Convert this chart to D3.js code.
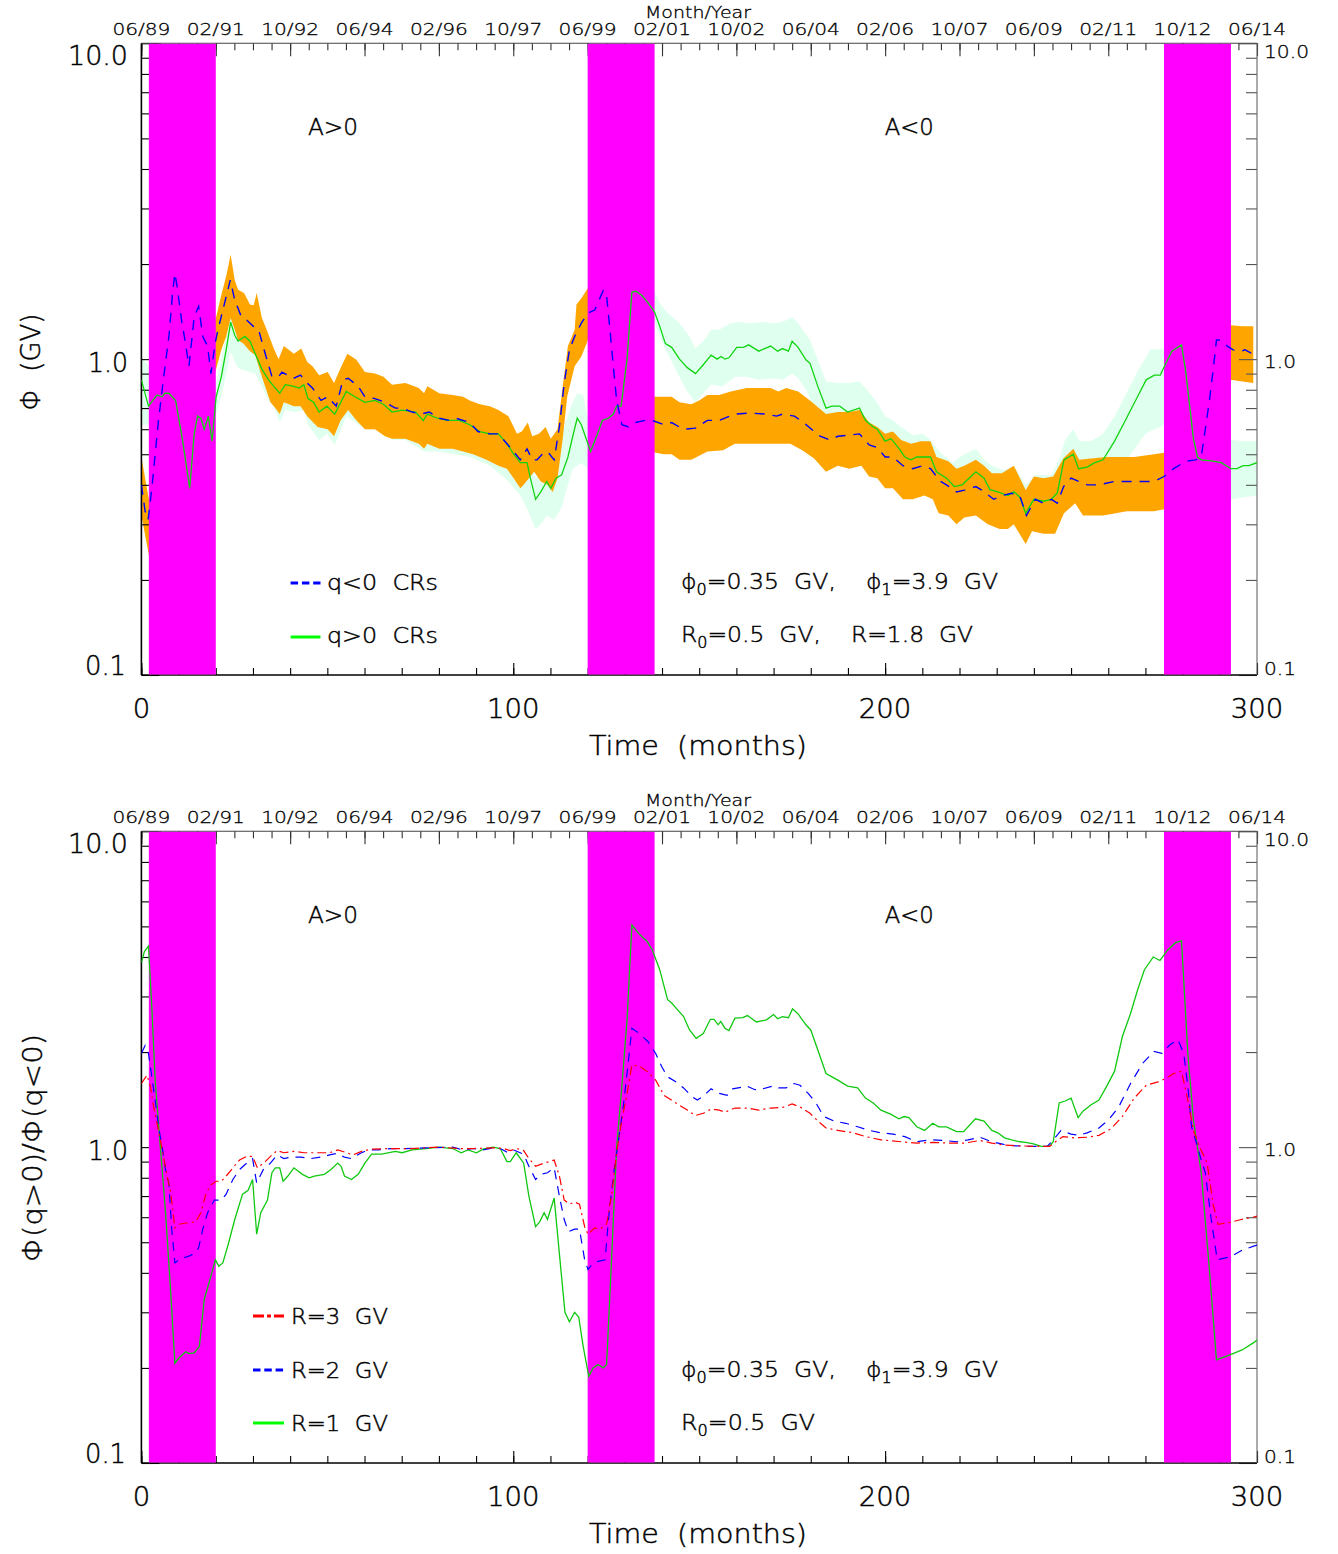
<!DOCTYPE html>
<html><head><meta charset="utf-8">
<script src="https://cdn.jsdelivr.net/npm/d3@7"></script>
<style>
body{margin:0;background:#fff}
svg{display:block}
text{font-family:"DejaVu Sans",sans-serif;font-weight:200;fill:#000;stroke:#000;stroke-width:0.45px;white-space:pre}
</style>
</head><body>
<svg id="c" width="1338" height="1554"></svg>
<script>
// ---------------- DATA ----------------
const reversalPeriods = [[2,20],[120,138],[275,293]];
const yearTickMonths = [0,20,40,60,80,100,120,140,160,180,200,220,240,260,280,300];
const yearTickLabels = ["06/89","02/91","10/92","06/94","02/96","10/97","06/99","02/01","10/02","06/04","02/06","10/07","06/09","02/11","10/12","06/14"];
const timeTickLabels = [0,100,200,300];
const yTickLabels = ["0.1","1.0","10.0"];

// Top panel: Phi for q<0 (blue dashed) and q>0 (green), [month, GV]
const phiQNeg = [[0,0.40],[1,0.33],[1.8,0.31],[2.8,0.39],[4.6,0.64],[6,0.88],[7.4,1.18],[8.3,1.58],[9,1.87],[9.6,1.7],[10.8,1.33],[11.7,1.15],[12.8,0.95],[14.2,1.36],[15.4,1.47],[16.5,1.18],[17.8,1.10],[18.7,0.90],[19.8,1.12],[20.6,1.24],[21.9,1.43],[23.9,1.78],[25.1,1.54],[26.9,1.36],[28.3,1.33],[30.1,1.27],[31.5,1.24],[33.3,1.04],[35.1,0.88],[36.9,0.88],[37.8,0.91],[41,0.87],[42.8,0.89],[44.6,0.84],[46,0.81],[48.3,0.74],[50.1,0.76],[52.4,0.71],[54.2,0.86],[55.6,0.87],[58.3,0.82],[60.1,0.76],[62.8,0.75],[65.5,0.73],[68.3,0.70],[70.1,0.70],[72.8,0.68],[75.1,0.67],[77.4,0.68],[80.1,0.65],[82.8,0.64],[84.6,0.65],[88.3,0.63],[90.5,0.59],[93.7,0.58],[96,0.58],[98.3,0.54],[100.1,0.51],[101.9,0.48],[102.8,0.50],[103.7,0.52],[105.1,0.48],[106.4,0.48],[107.8,0.50],[109.2,0.51],[111,0.48],[112.4,0.61],[113.7,0.84],[115.1,1.07],[116.5,1.18],[118.3,1.30],[120.1,1.40],[121.9,1.43],[124.2,1.65],[125,1.63],[126,1.24],[126.9,0.95],[127.8,0.74],[129.2,0.62],[131,0.61],[132.8,0.63],[135.5,0.64],[137.3,0.64],[140.5,0.62],[142.6,0.63],[145.7,0.60],[149,0.605],[152.2,0.64],[155.4,0.64],[159.6,0.67],[163.8,0.675],[168.1,0.67],[170.8,0.66],[172.4,0.67],[175.6,0.66],[177.7,0.635],[179.8,0.605],[182.5,0.57],[185.1,0.555],[187.3,0.57],[190.4,0.575],[193.1,0.58],[195.7,0.535],[197.9,0.525],[200,0.49],[202.1,0.49],[204.8,0.46],[207.4,0.45],[210.1,0.46],[212.2,0.45],[214.9,0.41],[216.5,0.40],[219.2,0.38],[221.3,0.385],[224.4,0.395],[226,0.385],[229.2,0.36],[231.4,0.37],[234,0.376],[236.2,0.37],[238,0.32],[240.4,0.36],[242.5,0.35],[244.7,0.36],[246.3,0.35],[248,0.395],[250,0.42],[252.1,0.41],[254.3,0.40],[257.4,0.40],[261.7,0.41],[267,0.41],[272.3,0.41],[275,0.425],[277.6,0.45],[280.8,0.475],[283.5,0.48],[285,0.49],[286.1,0.60],[287.2,0.74],[288.2,0.92],[289.1,1.15],[290.2,1.15],[292,1.10],[293.6,1.07],[295.7,1.06],[296.8,1.07],[298.4,1.045],[300,1.05]];
const phiQPos = [[0,0.86],[1.9,0.71],[4.2,0.77],[5.6,0.76],[6.3,0.78],[7.4,0.78],[9.2,0.74],[11,0.56],[13,0.39],[14.2,0.58],[15.1,0.66],[16,0.65],[16.9,0.60],[18,0.66],[19,0.55],[20.1,0.76],[21.5,0.88],[22.8,1.07],[24,1.31],[25.1,1.19],[26,1.14],[27.8,1.18],[29.2,1.14],[30.6,1.04],[32.4,0.93],[34.2,0.86],[35.6,0.82],[37.2,0.78],[38.7,0.83],[41,0.82],[42.4,0.81],[43.7,0.83],[44.8,0.75],[46.3,0.73],[47.8,0.68],[49.9,0.71],[52,0.67],[55.1,0.79],[57.4,0.76],[60.1,0.73],[62.8,0.74],[65.1,0.72],[67.4,0.68],[70.1,0.69],[73.7,0.68],[75.8,0.64],[76.9,0.67],[79.6,0.65],[82.3,0.64],[85.5,0.64],[88.3,0.62],[91,0.59],[93.7,0.58],[96,0.58],[98.3,0.54],[100.1,0.50],[101.9,0.47],[103.7,0.47],[104.6,0.42],[106,0.36],[107.4,0.38],[109,0.41],[110.1,0.39],[111.5,0.42],[113,0.43],[114.7,0.49],[116,0.57],[117.2,0.65],[118.3,0.62],[120.8,0.51],[122.4,0.57],[124,0.64],[125.6,0.65],[126.9,0.67],[127.8,0.71],[129,0.71],[130.6,1.0],[131.9,1.63],[133,1.64],[134.6,1.59],[136.4,1.50],[138,1.41],[139.4,1.27],[140.9,1.12],[142.6,1.09],[144.7,1.0],[146.8,0.94],[149,0.90],[151.1,0.96],[153.2,1.03],[154.8,1.0],[155.9,1.02],[156.9,1.0],[158,1.01],[160.1,1.09],[161.9,1.09],[163.3,1.11],[166,1.06],[169.2,1.10],[171.1,1.06],[172.4,1.08],[174,1.06],[175,1.14],[176.6,1.09],[178.7,0.995],[179.8,0.97],[181.9,0.82],[184.1,0.70],[185.7,0.71],[187.8,0.71],[189.9,0.68],[193.1,0.70],[194.7,0.64],[196.8,0.61],[197.9,0.60],[200,0.55],[201.6,0.56],[203.8,0.52],[205.3,0.49],[206.9,0.48],[208.5,0.49],[210.1,0.49],[212.2,0.49],[213.8,0.44],[216.5,0.42],[218.6,0.395],[220.7,0.40],[224.4,0.44],[226.6,0.42],[228.2,0.386],[230.3,0.38],[233,0.37],[234.6,0.38],[236.2,0.366],[237.8,0.325],[240,0.36],[242.6,0.355],[244.7,0.36],[246.3,0.377],[248.1,0.48],[250.6,0.50],[252,0.45],[254.3,0.455],[256.4,0.47],[258.6,0.48],[261.7,0.55],[264.9,0.65],[268.1,0.77],[270.2,0.86],[272.4,0.89],[274,0.89],[275.5,0.97],[277.1,1.06],[279.7,1.11],[280.8,0.92],[281.9,0.71],[282.9,0.56],[284,0.49],[285,0.48],[287.7,0.476],[290.4,0.47],[293,0.45],[294.6,0.45],[296.3,0.46],[297.8,0.46],[300,0.47]];

// Uncertainty bands (upper / lower edges)
const phiQNegHi = [[0,0.49],[2,0.36],[20.1,1.36],[21.5,1.6],[22.8,1.83],[24,2.14],[25.1,1.78],[26,1.66],[27.6,1.62],[29.2,1.49],[30.2,1.48],[31,1.62],[32.4,1.35],[33.7,1.24],[35.6,1.08],[36.9,1.0],[38.3,1.10],[39.6,1.07],[41,1.04],[43,1.08],[44.6,0.98],[46,0.95],[47.8,0.89],[50.1,0.91],[51.8,0.84],[53.6,0.94],[55.4,1.04],[57.8,0.995],[60.1,0.91],[62.8,0.90],[65.1,0.88],[67.4,0.83],[71,0.84],[74.6,0.81],[76,0.78],[76.9,0.82],[80.1,0.78],[83.7,0.77],[86.5,0.76],[88.3,0.74],[91,0.72],[93.7,0.71],[96,0.69],[98.7,0.66],[101,0.58],[102.3,0.59],[103.9,0.63],[105.1,0.57],[106.9,0.58],[108.7,0.61],[110.1,0.56],[111.9,0.60],[113.3,0.82],[114.7,1.10],[116.5,1.24],[117,1.49],[118.3,1.56],[120.1,1.68],[138,0.76],[140.5,0.76],[142.6,0.76],[144.7,0.73],[147.9,0.72],[150,0.74],[152.2,0.77],[155.4,0.77],[158.5,0.79],[162.8,0.81],[166,0.81],[169.2,0.81],[171.3,0.79],[173.4,0.81],[176.6,0.79],[179.8,0.74],[184.1,0.67],[187.3,0.68],[190.4,0.68],[193.1,0.69],[195.7,0.63],[197.9,0.61],[200,0.58],[202.1,0.59],[204.3,0.555],[207,0.54],[209.6,0.55],[212.2,0.55],[213.8,0.49],[217,0.475],[219.2,0.45],[221.3,0.46],[224.4,0.48],[226.6,0.46],[228.7,0.435],[231.4,0.435],[234.6,0.46],[237.8,0.385],[240,0.425],[242.6,0.42],[245.2,0.425],[247.9,0.485],[250.6,0.52],[252.2,0.48],[255.3,0.485],[259.6,0.49],[267,0.49],[272.3,0.50],[275,0.505],[293,1.28],[296,1.27],[299,1.27]];
const phiQNegLo = [[0,0.32],[2,0.24],[20.1,0.93],[21.5,1.07],[22.8,1.18],[24,1.35],[25.1,1.24],[26,1.15],[27.4,1.12],[29.2,1.06],[30.6,1.03],[32.4,0.88],[34.7,0.73],[36,0.70],[37.2,0.67],[38.3,0.73],[41,0.71],[42.8,0.71],[44.6,0.66],[47.4,0.61],[50.1,0.60],[51.8,0.57],[53.6,0.64],[55.6,0.69],[57.8,0.64],[60.1,0.60],[62.8,0.60],[65.5,0.57],[67.4,0.56],[71,0.56],[74.6,0.54],[76,0.52],[76.9,0.54],[80.1,0.52],[83.7,0.52],[86.5,0.51],[89.2,0.50],[92.8,0.48],[96,0.46],[98.3,0.45],[100.1,0.42],[101.9,0.39],[102.8,0.40],[104.2,0.42],[105.6,0.44],[107.4,0.41],[109.2,0.40],[110.6,0.38],[111.9,0.42],[113.3,0.56],[114.5,0.76],[116.5,0.95],[118.3,1.02],[120.1,1.15],[138,0.506],[140.5,0.50],[142.6,0.50],[144.7,0.48],[147.9,0.48],[152.2,0.51],[156.4,0.515],[159.6,0.54],[164.9,0.54],[169.2,0.54],[174.5,0.54],[177.7,0.515],[180.9,0.485],[184.1,0.44],[187.3,0.46],[190.4,0.45],[193.6,0.46],[195.7,0.425],[197.9,0.42],[200,0.39],[202.1,0.39],[204.8,0.36],[207.4,0.36],[210.6,0.37],[212.8,0.36],[214.4,0.325],[217,0.32],[219.2,0.30],[221.3,0.315],[224.4,0.32],[227.6,0.30],[230.8,0.29],[233,0.29],[234.6,0.30],[237.8,0.26],[239.5,0.285],[242.6,0.28],[245.7,0.28],[248.1,0.325],[251.1,0.35],[253.2,0.32],[258.6,0.32],[265,0.33],[272.3,0.33],[275,0.335],[293,0.86],[296,0.85],[299,0.84]];
const phiQPosHi = [[0,1.02],[2,0.95],[20.1,0.85],[21.5,1.0],[22.8,1.2],[24,1.45],[25.1,1.33],[26,1.28],[27.8,1.32],[29.2,1.28],[30.6,1.17],[32.4,1.04],[34.2,0.97],[35.6,0.92],[37.2,0.88],[38.7,0.93],[41,0.92],[43.7,0.93],[44.8,0.84],[46.3,0.82],[47.8,0.77],[49.9,0.80],[52,0.76],[55.1,0.89],[57.4,0.86],[60.1,0.82],[62.8,0.83],[65.1,0.81],[67.4,0.77],[70.1,0.78],[73.7,0.77],[75.8,0.72],[76.9,0.75],[79.6,0.73],[82.3,0.72],[85.5,0.72],[88.3,0.70],[91,0.66],[93.7,0.65],[96,0.65],[98.3,0.61],[100.1,0.57],[101.9,0.53],[103.7,0.53],[104.6,0.48],[106,0.42],[107.4,0.43],[109,0.46],[110.1,0.45],[111.5,0.48],[112,0.50],[113.7,0.61],[115.5,0.71],[117.2,0.78],[118.8,0.77],[120.1,0.64],[138,1.64],[139.4,1.5],[141.5,1.4],[144.7,1.3],[147.4,1.18],[149,1.08],[151.1,1.14],[153.2,1.24],[155.4,1.24],[158.5,1.30],[160.6,1.31],[163.8,1.30],[167,1.31],[170.3,1.30],[172.4,1.31],[175,1.36],[176.6,1.30],[179.8,1.15],[181.9,0.995],[184.1,0.85],[187.3,0.84],[190.4,0.84],[193.1,0.85],[195.2,0.80],[197.9,0.725],[200,0.66],[202.1,0.64],[204.3,0.61],[207.4,0.575],[210.1,0.58],[212.2,0.555],[214.9,0.505],[218.1,0.47],[221.3,0.50],[224.4,0.52],[226.6,0.48],[228.7,0.46],[231.9,0.445],[234.6,0.46],[237.8,0.40],[240.4,0.43],[244.7,0.43],[246.8,0.48],[248.4,0.555],[250.6,0.60],[252.2,0.55],[255.3,0.55],[258.6,0.58],[261.7,0.66],[264.9,0.78],[268.1,0.925],[271.3,1.07],[275,1.08],[293,0.555],[296,0.55],[300,0.55]];
const phiQPosLo = [[0,0.62],[2,0.62],[20.1,0.67],[21.5,0.76],[22.8,0.90],[24,1.06],[25.1,0.98],[26,0.94],[27.8,0.92],[29.2,0.91],[30.6,0.90],[32.4,0.82],[34.2,0.74],[35.6,0.71],[37.2,0.63],[38.7,0.69],[41,0.68],[43.7,0.69],[44.8,0.62],[47.8,0.555],[49.9,0.58],[52,0.535],[55.1,0.66],[60.1,0.60],[64,0.60],[67.4,0.555],[71,0.555],[76,0.51],[80.1,0.51],[88.3,0.49],[93.7,0.46],[98.3,0.415],[101.9,0.37],[104,0.33],[106,0.29],[107.4,0.30],[109,0.32],[111,0.31],[113,0.34],[114.7,0.40],[116,0.45],[118.3,0.47],[120.1,0.45],[138,1.30],[140.5,1.10],[143.7,0.925],[146.8,0.79],[149,0.73],[151.1,0.78],[153.2,0.83],[156.4,0.82],[159.6,0.88],[162.8,0.88],[166,0.86],[170.3,0.87],[172.4,0.86],[175,0.90],[176.6,0.87],[178.7,0.80],[181.9,0.66],[184.1,0.58],[190,0.57],[195,0.52],[200,0.45],[205,0.41],[210,0.40],[214,0.36],[218.6,0.33],[224,0.36],[228,0.32],[233,0.31],[237.8,0.27],[240,0.30],[245,0.30],[248,0.40],[251,0.42],[255,0.39],[260,0.42],[265,0.48],[270,0.58],[275,0.62],[293,0.36],[296,0.365],[300,0.37]];

// Bottom panel: ratio Phi(q>0)/Phi(q<0) for R = 3, 2, 1 GV
const ratioR3 = [[0,1.59],[1.5,1.69],[2.4,1.56],[3.3,1.34],[4.2,1.19],[5.6,0.98],[6.9,0.81],[7.8,0.73],[9,0.555],[10.1,0.57],[12.8,0.577],[14.6,0.58],[16,0.62],[17.4,0.715],[18.7,0.76],[20.1,0.78],[21.5,0.78],[22.8,0.81],[24.6,0.86],[26.4,0.91],[28.3,0.935],[29.9,0.935],[31.2,0.86],[33.3,0.90],[35.1,0.945],[36.5,0.975],[38.3,0.96],[41,0.97],[43.7,0.96],[47.4,0.96],[50.6,0.96],[52.8,0.98],[54.6,0.965],[56.9,0.945],[59.2,0.97],[61.9,0.985],[67.4,0.99],[72.8,0.99],[80.1,1.0],[85.5,0.99],[89.2,0.99],[94.6,0.995],[97.4,0.99],[99.2,0.975],[101,0.99],[102.8,0.975],[104.2,0.92],[106,0.87],[108.3,0.89],[111,0.91],[112.4,0.81],[113.7,0.68],[115.1,0.66],[116.5,0.67],[117.8,0.66],[119.2,0.56],[120.1,0.53],[121.9,0.555],[123.3,0.55],[125.1,0.57],[126.5,0.715],[127.8,0.96],[129.2,1.22],[130.6,1.48],[131.9,1.82],[134.1,1.80],[136.2,1.73],[138.3,1.63],[140.5,1.46],[143.7,1.38],[146.8,1.31],[149,1.26],[151.1,1.28],[153.2,1.32],[155.4,1.31],[156.9,1.29],[159.6,1.33],[162.8,1.33],[166,1.31],[169.2,1.33],[172.4,1.335],[175,1.37],[177.1,1.34],[179.8,1.28],[181.9,1.21],[184.1,1.15],[187.3,1.13],[191.5,1.11],[194.7,1.08],[198.9,1.055],[204.3,1.04],[208.5,1.03],[212.8,1.035],[217,1.03],[221.3,1.03],[225.5,1.05],[228.7,1.03],[231.9,1.015],[236.2,1.01],[240.4,1.005],[244.2,1.005],[245.8,1.04],[247.8,1.08],[251,1.07],[254.3,1.075],[257.5,1.09],[260.6,1.14],[263.8,1.25],[267,1.43],[270.2,1.57],[273.4,1.61],[275.5,1.65],[277.6,1.71],[279.7,1.74],[281.4,1.41],[282.9,1.13],[284.5,1.005],[286.6,0.89],[288.2,0.66],[289.5,0.57],[292.5,0.577],[295.7,0.59],[298.9,0.60],[300,0.605]];
const ratioR2 = [[0,1.98],[1,2.1],[1.9,1.98],[2.8,1.67],[3.7,1.41],[4.6,1.16],[5.6,1.0],[6.6,0.83],[7.4,0.77],[8.1,0.56],[9,0.43],[10.6,0.445],[12.4,0.45],[14.2,0.46],[15.4,0.48],[16.5,0.55],[17.8,0.62],[19.6,0.68],[21.5,0.68],[22.8,0.71],[24.6,0.79],[26.4,0.85],[28.3,0.89],[29.9,0.92],[31,0.77],[32.8,0.85],[34.7,0.89],[36.5,0.945],[38.3,0.92],[40.1,0.93],[42.8,0.93],[45.6,0.92],[48.3,0.93],[50.6,0.945],[52.4,0.955],[54.6,0.93],[56.5,0.92],[58.8,0.955],[61,0.98],[63.7,0.98],[67.4,0.99],[71,0.99],[76.5,0.995],[83.7,1.0],[86.5,0.98],[89.2,0.99],[91.9,0.98],[94.6,0.995],[96.5,0.99],[98.3,0.965],[100.1,0.98],[102.8,0.95],[104.2,0.87],[106,0.79],[107.4,0.82],[109.2,0.83],[111,0.86],[112.6,0.68],[113.7,0.59],[114.8,0.54],[116.5,0.55],[117.8,0.55],[119.2,0.44],[120.1,0.41],[121.5,0.43],[122.8,0.435],[124.7,0.44],[125.6,0.59],[126.9,0.81],[128.3,1.05],[129.6,1.35],[130.8,1.8],[131.9,2.38],[133.7,2.3],[136.2,2.16],[138.3,1.98],[139.9,1.80],[141.5,1.67],[143.7,1.61],[145.8,1.54],[147.9,1.45],[149.5,1.41],[151.1,1.45],[153.2,1.53],[155.4,1.48],[157.5,1.46],[159,1.53],[162.9,1.56],[165,1.52],[167.1,1.53],[169.7,1.56],[171.3,1.54],[173.4,1.54],[175.5,1.59],[177.1,1.57],[179.3,1.48],[181.4,1.38],[183.5,1.25],[186.2,1.21],[189.4,1.19],[192.6,1.16],[195.7,1.13],[198.9,1.11],[202.1,1.10],[205.3,1.08],[208.5,1.04],[212.2,1.055],[215.9,1.05],[219.2,1.04],[222.3,1.055],[225.5,1.075],[228.7,1.04],[231.9,1.02],[235.1,1.01],[239.3,1.005],[243.6,1.005],[245.2,1.055],[247.3,1.13],[250,1.10],[252.1,1.09],[254.3,1.11],[257.5,1.15],[260.1,1.22],[262.8,1.34],[266,1.59],[269.2,1.84],[272.3,2.01],[274.4,1.98],[276.6,2.11],[278.7,2.19],[280.3,1.98],[281.4,1.56],[282.4,1.16],[284,1.005],[285,0.91],[286.1,0.83],[287.7,0.59],[289.3,0.44],[293,0.45],[295.7,0.47],[298.9,0.485],[300,0.49]];
const ratioR1 = [[0,3.84],[0.8,4.16],[1.9,4.33],[2.8,2.78],[3.7,1.63],[5.1,1.0],[6.5,0.62],[7.8,0.36],[9,0.207],[10.1,0.215],[11.9,0.225],[12.8,0.222],[14.2,0.223],[15.6,0.234],[16.9,0.33],[18.3,0.376],[19.9,0.44],[20.8,0.42],[21.9,0.43],[23.3,0.49],[25.1,0.59],[27.2,0.71],[28.7,0.73],[29.9,0.79],[31,0.53],[32.1,0.62],[33.9,0.68],[35.1,0.83],[36,0.86],[37.2,0.86],[38.1,0.78],[39.4,0.81],[41,0.86],[43.3,0.82],[45.1,0.80],[46.5,0.81],[49.2,0.82],[51,0.85],[52.8,0.89],[53.7,0.87],[54.6,0.81],[56.5,0.79],[58.3,0.82],[60.1,0.89],[61.9,0.95],[64.6,0.95],[68.3,0.97],[70.1,0.96],[72.8,0.98],[76.5,0.99],[80.1,1.0],[83.7,0.99],[86,0.96],[87.8,0.98],[90.1,0.96],[91.9,0.985],[94.6,1.0],[96.5,0.99],[98.3,0.90],[99.2,0.90],[100.8,0.96],[102.8,0.89],[104.2,0.70],[106,0.56],[107.1,0.58],[108.3,0.62],[109.2,0.59],[111,0.69],[112.4,0.46],[113.9,0.30],[115.1,0.28],[116.5,0.30],[117.6,0.29],[118.8,0.234],[120.3,0.188],[121.5,0.20],[122.8,0.205],[124.2,0.20],[125.1,0.205],[126.5,0.46],[127.8,1.0],[129.2,1.56],[130.6,2.53],[131.9,5.05],[133.7,4.75],[136,4.48],[137.4,4.21],[139.4,3.64],[141.5,2.93],[142.6,2.86],[144.2,2.72],[145.8,2.59],[147.4,2.35],[149.2,2.21],[151.1,2.29],[153,2.54],[154,2.54],[155.1,2.44],[155.8,2.5],[156.9,2.38],[158,2.34],[159.6,2.56],[161.7,2.57],[163,2.61],[165.4,2.49],[168.1,2.53],[170,2.63],[171.1,2.55],[172.4,2.59],[174,2.57],[175.1,2.74],[176.6,2.64],[178.7,2.44],[180,2.35],[181.9,2.03],[184.1,1.71],[185.7,1.67],[187.3,1.63],[189.9,1.56],[192.6,1.54],[194.7,1.43],[196.8,1.38],[198.9,1.31],[201.6,1.27],[203.7,1.23],[205.1,1.25],[206.4,1.24],[208.5,1.16],[210.6,1.13],[212.8,1.19],[214.4,1.16],[216.5,1.16],[219.2,1.12],[221.1,1.12],[224.3,1.23],[226.6,1.21],[228.7,1.13],[230.3,1.11],[232.1,1.07],[234,1.055],[236.2,1.04],[237.8,1.035],[239.9,1.025],[242,1.005],[244.2,1.005],[245.2,1.04],[246.8,1.38],[248.4,1.40],[250,1.43],[251.9,1.24],[253.2,1.30],[255.3,1.36],[257.5,1.41],[259.6,1.56],[261.7,1.74],[263.8,2.24],[266,2.65],[267.9,3.15],[269.7,3.64],[272.1,4.0],[273.9,3.9],[276,4.21],[278.1,4.44],[279.7,4.5],[281.4,1.98],[282.9,1.22],[285,0.83],[287.2,0.41],[288.3,0.28],[289.1,0.212],[292.7,0.22],[296,0.228],[299,0.24],[300,0.245]];

// ---------------- DRAWING ----------------
const svg = d3.select("#c");
const x = d3.scaleLinear().domain([0,300]).range([141.4,1257]);
const X0 = x(0), X1 = x(300);
const minorLog = [0.2,0.3,0.4,0.5,0.6,0.7,0.8,0.9,2,3,4,5,6,7,8,9];
const majorLog = [0.1,1,10];
const COL = {mag:"#ff00ff", orange:"#ffa500", mint:"#dfffef", blue:"#0000ff", green:"#11d411", red:"#ff0000"};

function panel(off, id){
  const y = d3.scaleLog().domain([0.1,10]).range([675+off, 43.3+off]);
  const Yt = y(10), Yb = y(0.1);
  const g = svg.append("g");
  g.append("clipPath").attr("id","clip"+id).append("rect")
    .attr("x",X0).attr("y",Yt).attr("width",X1-X0).attr("height",Yb-Yt);
  const layers = {
    bands: g.append("g").attr("clip-path",`url(#clip${id})`),
    axes: g.append("g"),
    mag: g.append("g"),
    lines: g.append("g").attr("clip-path",`url(#clip${id})`),
    text: g.append("g")
  };
  function ax(gen, tx, ty, vals, size, color){
    const a = layers.axes.append("g").attr("transform",`translate(${tx},${ty})`).attr("color",color)
      .call(gen.tickValues(vals).tickSize(size).tickSizeOuter(0).tickFormat(""));
    a.select(".domain").remove();
    a.selectAll("line").attr("stroke-width",1.1);
    return a;
  }
  ax(d3.axisRight(y), X0, 0, minorLog, 11, "#000");
  ax(d3.axisRight(y), X0, 0, majorLog, 18, "#000");
  ax(d3.axisLeft(y), X1, 0, minorLog, 11, "#555");
  ax(d3.axisLeft(y), X1, 0, majorLog, 18, "#555");
  ax(d3.axisBottom(x), 0, Yt, d3.range(0,301,5), 7, "#333");
  ax(d3.axisBottom(x), 0, Yt, yearTickMonths, 13, "#333");
  ax(d3.axisTop(x), 0, Yb, d3.range(0,301,10), 7, "#000");
  ax(d3.axisTop(x), 0, Yb, timeTickLabels, 12, "#000");
  layers.axes.append("line").attr("x1",X0).attr("x2",X0).attr("y1",Yt).attr("y2",Yb).attr("stroke","#000").attr("stroke-width",1.6);
  layers.axes.append("line").attr("x1",X0).attr("x2",X1).attr("y1",Yb).attr("y2",Yb).attr("stroke","#000").attr("stroke-width",1.6);
  layers.axes.append("line").attr("x1",X0).attr("x2",X1).attr("y1",Yt).attr("y2",Yt).attr("stroke","#444").attr("stroke-width",1.1);
  layers.axes.append("line").attr("x1",X1).attr("x2",X1).attr("y1",Yt).attr("y2",Yb).attr("stroke","#666").attr("stroke-width",1.1);

  layers.mag.selectAll("rect").data(reversalPeriods).join("rect")
    .attr("x",d=>x(d[0])).attr("width",d=>x(d[1])-x(d[0]))
    .attr("y",Yt+0.5).attr("height",Yb-Yt-1).attr("fill",COL.mag);

  const T = layers.text;
  const lblY = [{v:"10.0",b:65},{v:"1.0",b:372},{v:"0.1",b:675}];
  const lblW = {"10.0":60,"1.0":40,"0.1":41};
  T.selectAll(".yl").data(lblY).join("text").attr("class","yl")
    .attr("x",d=>d.v==="0.1"?126:128).attr("y",d=>d.b+off).attr("text-anchor","end")
    .attr("font-size",26).attr("textLength",d=>lblW[d.v]).attr("lengthAdjust","spacingAndGlyphs").text(d=>d.v);
  const lblR = [{v:"10.0",b:58},{v:"1.0",b:368},{v:"0.1",b:675}];
  const lblRW = {"10.0":45,"1.0":32,"0.1":32};
  T.selectAll(".yr").data(lblR).join("text").attr("class","yr")
    .attr("x",1264).attr("y",d=>d.b+off).attr("font-size",17).style("stroke-width","0.3px")
    .attr("textLength",d=>lblRW[d.v]).attr("lengthAdjust","spacingAndGlyphs").text(d=>d.v);
  T.selectAll(".yt").data(yearTickMonths).join("text").attr("class","yt")
    .attr("x",d=>x(d)).attr("y",35+off).attr("text-anchor","middle").attr("font-size",16).style("stroke-width","0.3px")
    .attr("textLength",58).attr("lengthAdjust","spacingAndGlyphs")
    .text((d,i)=>yearTickLabels[i]);
  T.append("text").attr("x",698).attr("y",18+off).attr("text-anchor","middle").attr("font-size",15).style("stroke-width","0.3px")
    .attr("textLength",106).attr("lengthAdjust","spacingAndGlyphs").text("Month/Year");
  T.selectAll(".xt").data(timeTickLabels).join("text").attr("class","xt")
    .attr("x",d=>x(d)).attr("y",718+off).attr("text-anchor","middle").attr("font-size",27)
    .attr("textLength",d=>String(d).length*17.5).attr("lengthAdjust","spacingAndGlyphs").text(d=>d);
  T.append("text").attr("x",698).attr("y",755+off).attr("text-anchor","middle").attr("font-size",27)
    .attr("textLength",218).attr("lengthAdjust","spacingAndGlyphs").text("Time  (months)");
  T.append("text").attr("x",x(51.5)).attr("y",135+off).attr("text-anchor","middle").attr("font-size",23)
    .attr("textLength",50).attr("lengthAdjust","spacingAndGlyphs").text("A>0");
  T.append("text").attr("x",x(206.5)).attr("y",135+off).attr("text-anchor","middle").attr("font-size",23)
    .attr("textLength",49).attr("lengthAdjust","spacingAndGlyphs").text("A<0");
  return {y, layers, T};
}

function phiText(T, xp, yp, sym, sub, rest, len){
  const t = T.append("text").attr("x",xp).attr("y",yp).attr("font-size",22);
  t.append("tspan").text(sym);
  t.append("tspan").attr("font-size",15).attr("dy",6).text(sub);
  t.append("tspan").attr("dy",-6).text(rest);
  t.attr("textLength",len).attr("lengthAdjust","spacingAndGlyphs");
}

function bandPath(y, hi, lo){
  const ln = d3.line().x(d=>x(d[0])).y(d=>y(d[1]));
  return ln(hi.concat(lo.slice().reverse())) + "Z";
}
function linePath(y, data){
  return d3.line().x(d=>x(d[0])).y(d=>y(d[1]))(data);
}

// ---- top panel ----
const P1 = panel(0, 1);
P1.layers.bands.append("path").attr("d",bandPath(P1.y, phiQPosHi, phiQPosLo)).attr("fill",COL.mint);
P1.layers.bands.append("path").attr("d",bandPath(P1.y, phiQNegHi, phiQNegLo)).attr("fill",COL.orange);
P1.layers.lines.append("path").attr("d",linePath(P1.y, phiQPos)).attr("fill","none").attr("stroke",COL.green).attr("stroke-width",1.3);
P1.layers.lines.append("path").attr("d",linePath(P1.y, phiQNeg)).attr("fill","none").attr("stroke",COL.blue).attr("stroke-width",1.4).attr("stroke-dasharray","10,8");
P1.T.append("line").attr("x1",290.6).attr("x2",320.5).attr("y1",583).attr("y2",583).attr("stroke",COL.blue).attr("stroke-width",3).attr("stroke-dasharray","7.5,3.8");
P1.T.append("line").attr("x1",290.6).attr("x2",320.5).attr("y1",637).attr("y2",637).attr("stroke","#00ff00").attr("stroke-width",3);
P1.T.append("text").attr("x",327).attr("y",590).attr("font-size",21).attr("textLength",111).attr("lengthAdjust","spacingAndGlyphs").text("q<0  CRs");
P1.T.append("text").attr("x",327).attr("y",643).attr("font-size",21).attr("textLength",111).attr("lengthAdjust","spacingAndGlyphs").text("q>0  CRs");
phiText(P1.T, 681, 589, "ϕ", "0", "=0.35  GV,", 155);
phiText(P1.T, 866, 589, "ϕ", "1", "=3.9  GV", 132);
phiText(P1.T, 681, 642, "R", "0", "=0.5  GV,", 140);
P1.T.append("text").attr("x",851).attr("y",642).attr("font-size",22).attr("textLength",122).attr("lengthAdjust","spacingAndGlyphs").text("R=1.8  GV");
P1.T.append("text").attr("transform","translate(40,362) rotate(-90)").attr("text-anchor","middle").attr("font-size",27)
  .attr("textLength",97).attr("lengthAdjust","spacingAndGlyphs").text("Φ  (GV)");

// ---- bottom panel ----
const P2 = panel(788, 2);
P2.layers.lines.append("path").attr("d",linePath(P2.y, ratioR1)).attr("fill","none").attr("stroke","#11c811").attr("stroke-width",1.3);
P2.layers.lines.append("path").attr("d",linePath(P2.y, ratioR2)).attr("fill","none").attr("stroke",COL.blue).attr("stroke-width",1.2).attr("stroke-dasharray","9,7");
P2.layers.lines.append("path").attr("d",linePath(P2.y, ratioR3)).attr("fill","none").attr("stroke",COL.red).attr("stroke-width",1.2).attr("stroke-dasharray","9,4,2,4");
const legB = [{t:"R=3  GV",c:COL.red,d:"11,3,4,3",y:1316},{t:"R=2  GV",c:COL.blue,d:"7.5,3.8",y:1370},{t:"R=1  GV",c:"#00ff00",d:null,y:1423}];
legB.forEach(l=>{
  const ln = P2.T.append("line").attr("x1",253).attr("x2",284).attr("y1",l.y).attr("y2",l.y).attr("stroke",l.c).attr("stroke-width",3);
  if(l.d) ln.attr("stroke-dasharray",l.d);
  P2.T.append("text").attr("x",291).attr("y",l.y+8).attr("font-size",21).attr("textLength",97).attr("lengthAdjust","spacingAndGlyphs").text(l.t);
});
phiText(P2.T, 681, 1377, "ϕ", "0", "=0.35  GV,", 155);
phiText(P2.T, 866, 1377, "ϕ", "1", "=3.9  GV", 132);
phiText(P2.T, 681, 1430, "R", "0", "=0.5  GV", 134);
P2.T.append("text").attr("transform","translate(42,1148) rotate(-90)").attr("text-anchor","middle").attr("font-size",27)
  .attr("textLength",228).attr("lengthAdjust","spacingAndGlyphs").text("Φ(q>0)/Φ(q<0)");
</script>
</body></html>
